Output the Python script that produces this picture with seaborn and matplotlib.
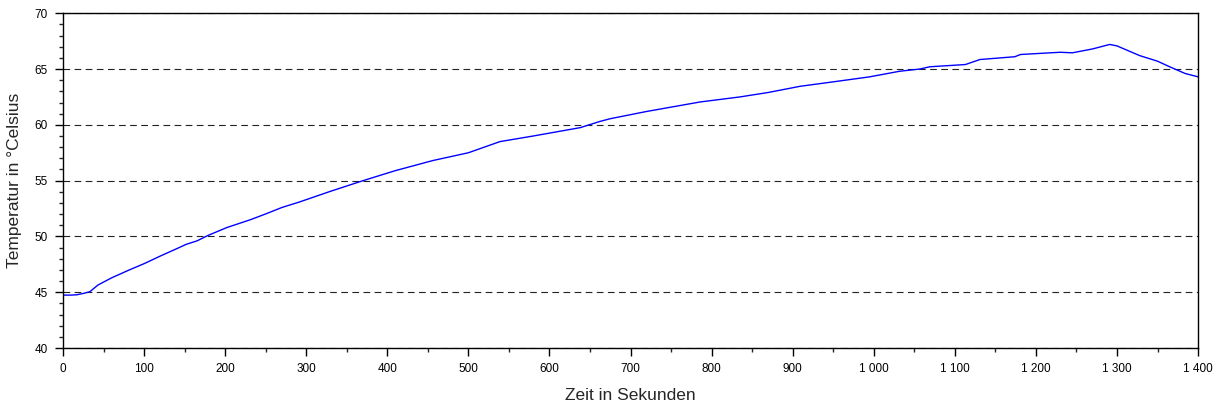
import matplotlib
matplotlib.use('Agg')
import matplotlib.pyplot as plt
from matplotlib.ticker import MultipleLocator, FuncFormatter
import seaborn as sns
import pandas as pd

zeit = [0, 10, 17, 25, 33, 43, 60, 80, 101, 120, 140, 152, 165, 179, 202, 231,
        251, 270, 292, 330, 370, 410, 456, 500, 539, 580, 638, 662, 675, 720,
        786, 835, 870, 909, 950, 995, 1032, 1057, 1069, 1113, 1131, 1174, 1181,
        1230, 1245, 1270, 1291, 1300, 1328, 1350, 1365, 1384, 1400]
temperatur = [44.75, 44.75, 44.78, 44.9, 45.05, 45.65, 46.3, 46.95, 47.6, 48.25,
              48.9, 49.3, 49.6, 50.1, 50.8, 51.5, 52.05, 52.6, 53.1, 54.05, 55.0,
              55.9, 56.8, 57.5, 58.5, 59.0, 59.75, 60.3, 60.55, 61.2, 62.05, 62.5,
              62.9, 63.45, 63.85, 64.3, 64.8, 65.0, 65.2, 65.4, 65.85, 66.1, 66.3,
              66.5, 66.45, 66.8, 67.2, 67.07, 66.2, 65.7, 65.2, 64.6, 64.3]

df = pd.DataFrame({'zeit': zeit, 'temperatur': temperatur})

sns.set_style("ticks")
plt.rcParams['font.family'] = ['Liberation Sans', 'DejaVu Sans']

fig, ax = plt.subplots(figsize=(12.22, 4.12), dpi=100)
sns.lineplot(data=df, x='zeit', y='temperatur', ax=ax, color='#0000ff', linewidth=1)

ax.set_xlim(0, 1400)
ax.set_ylim(40, 70)
ax.xaxis.set_major_locator(MultipleLocator(100))
ax.xaxis.set_minor_locator(MultipleLocator(50))
ax.yaxis.set_major_locator(MultipleLocator(5))
ax.yaxis.set_minor_locator(MultipleLocator(1))
# Tausendertrenner als Leerzeichen
ax.xaxis.set_major_formatter(FuncFormatter(lambda v, p: f"{int(v):,}".replace(',', ' ')))

ax.tick_params(which='major', direction='out', length=6, width=1, labelsize=8.5,
               colors='black', pad=5)
ax.tick_params(which='minor', direction='out', length=3, width=1)
for s in ax.spines.values():
    s.set_color('black')
    s.set_linewidth(1)

ax.grid(True, axis='y', which='major', linestyle='--', color='#222222', linewidth=0.8, dashes=(6, 4))
ax.set_xlabel('Zeit in Sekunden', fontsize=12.5, labelpad=9)
ax.set_ylabel('Temperatur in °Celsius', fontsize=12.5, labelpad=9)

fig.subplots_adjust(left=0.0516, right=0.9804, top=0.968, bottom=0.155)
fig.savefig('out.png', dpi=100)
plt.close()
